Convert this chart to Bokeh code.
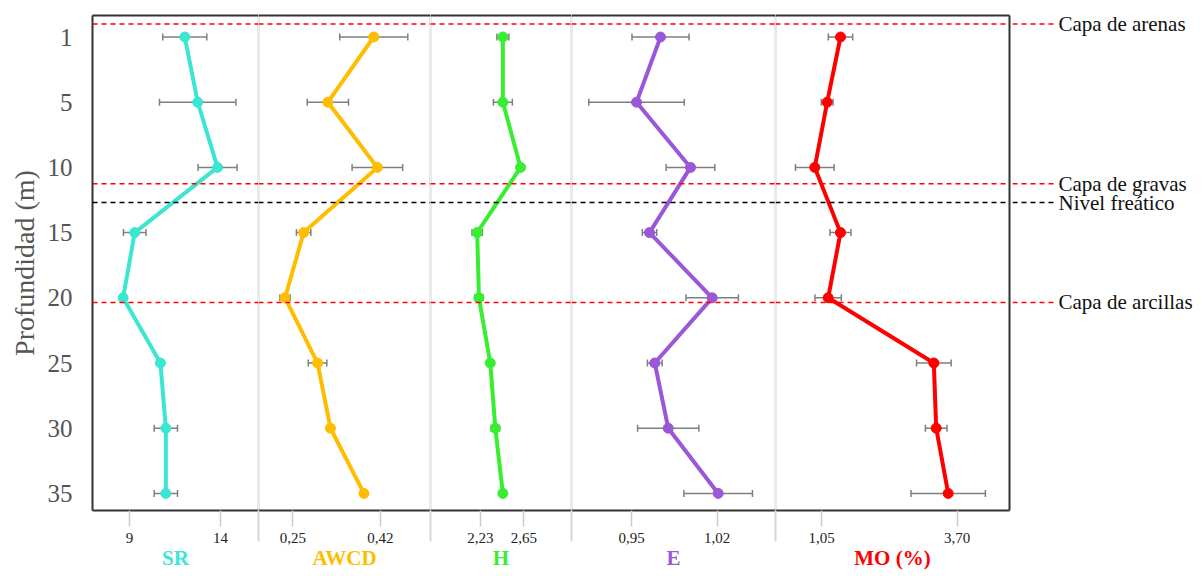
from bokeh.plotting import figure
from bokeh.layouts import row
from bokeh.models import Range1d, FixedTicker, LinearAxis, Span, Whisker, TeeHead, ColumnDataSource
from bokeh.embed import file_html
from bokeh.resources import INLINE
from bokeh.core.properties import value

# Sampling depths (m)
depths = ["1", "5", "10", "15", "20", "25", "30", "35"]

# Mean value and error for each index, by depth
sr = [12.04, 12.75, 13.84, 9.29, 8.65, 10.70, 11.00, 11.00]
sr_err = [1.21, 2.10, 1.07, 0.62, 0.0, 0.0, 0.64, 0.64]

awcd = [0.407, 0.318, 0.414, 0.271, 0.235, 0.298, 0.323, 0.388]
awcd_err = [0.066, 0.040, 0.049, 0.014, 0.010, 0.018, 0.006, 0.006]

h = [2.447, 2.447, 2.619, 2.198, 2.215, 2.325, 2.374, 2.447]
h_err = [0.058, 0.092, 0.030, 0.050, 0.040, 0.0, 0.040, 0.0]

e = [0.9737, 0.9541, 0.9982, 0.9647, 1.0159, 0.9690, 0.9800, 1.0208]
e_err = [0.0233, 0.0390, 0.0199, 0.0059, 0.0214, 0.0060, 0.0250, 0.0280]

mo = [1.421, 1.161, 0.919, 1.421, 1.180, 3.243, 3.289, 3.523]
mo_err = [0.238, 0.114, 0.377, 0.205, 0.257, 0.338, 0.211, 0.726]

# Tick values and their printed labels for each panel
sr_ticks, sr_tick_labels = [9, 14], ["9", "14"]
awcd_ticks, awcd_tick_labels = [0.25, 0.42], ["0,25", "0,42"]
h_ticks, h_tick_labels = [2.23, 2.65], ["2,23", "2,65"]
e_ticks, e_tick_labels = [0.95, 1.02], ["0,95", "1,02"]
mo_ticks, mo_tick_labels = [1.05, 3.70], ["1,05", "3,70"]

# Stratigraphic reference lines, placed on the depth-row axis
layer_names = ["Capa de arenas", "Capa de gravas", "Nivel freático", "Capa de arcillas"]
layer_rows = [-0.2, 2.25, 2.54, 4.07]
layer_colors = ["#ff0000", "#ff0000", "#000000", "#ff0000"]

SERIF = "Liberation Serif"
FRAME_H = 495
TOP, BOTTOM = 15, 66
DIVIDER = "#d6d6d6"
FRAME_LINE = "#333333"

panels = [
    dict(label="SR", vals=sr, errs=sr_err, color="#3be6d2", xr=(6.97, 16.09),
         ticks=sr_ticks, tick_labels=sr_tick_labels, fw=166),
    dict(label="AWCD", vals=awcd, errs=awcd_err, color="#ffbd00", xr=(0.1835, 0.517),
         ticks=awcd_ticks, tick_labels=awcd_tick_labels, fw=172),
    dict(label="H", vals=h, errs=h_err, color="#38ee30", xr=(1.745, 3.113),
         ticks=h_ticks, tick_labels=h_tick_labels, fw=141),
    dict(label="E", vals=e, errs=e_err, color="#9a58d8", xr=(0.901, 1.0676),
         ticks=e_ticks, tick_labels=e_tick_labels, fw=204),
    dict(label="MO (%)", vals=mo, errs=mo_err, color="#ff0000", xr=(0.152, 4.72),
         ticks=mo_ticks, tick_labels=mo_tick_labels, fw=234),
]

rows_idx = list(range(len(depths)))
y_range = Range1d(7.262, -0.33)

figs = []
n = len(panels)
for i, cfg in enumerate(panels):
    first, last = i == 0, i == n - 1
    lo, hi = cfg["xr"]
    p = figure(frame_width=cfg["fw"], frame_height=FRAME_H,
               x_range=Range1d(lo, hi), y_range=y_range,
               min_border_left=92 if first else 0, min_border_right=3 if last else 0,
               min_border_top=TOP, min_border_bottom=BOTTOM,
               y_axis_location="left" if first else None,
               output_backend="svg", toolbar_location=None)
    p.outline_line_color = None
    p.grid.visible = False
    p.background_fill_color = "white"
    p.border_fill_color = "white"

    # panel separators
    edges = []
    if not first:
        edges.append(lo)
    if not last:
        edges.append(hi)
    for ed in edges:
        p.add_layout(Span(location=ed, dimension="height", line_color=DIVIDER,
                          line_width=2, level="underlay"))

    # bottom axis
    ax = p.xaxis[0]
    ax.ticker = FixedTicker(ticks=cfg["ticks"], minor_ticks=edges)
    ax.major_label_overrides = {t: s for t, s in zip(cfg["ticks"], cfg["tick_labels"])}
    ax.axis_line_color = FRAME_LINE
    ax.axis_line_width = 2
    ax.major_tick_line_color = "#cccccc"
    ax.major_tick_line_width = 1.5
    ax.major_tick_out = 16
    ax.major_tick_in = 0
    ax.minor_tick_line_color = DIVIDER
    ax.minor_tick_line_width = 2
    ax.minor_tick_out = 31
    ax.minor_tick_in = 0
    ax.major_label_text_font = SERIF
    ax.major_label_text_font_size = "15px"
    ax.major_label_text_color = "#222222"
    ax.major_label_standoff = -9
    ax.axis_label = cfg["label"]
    ax.axis_label_text_font = SERIF
    ax.axis_label_text_font_size = "21px"
    ax.axis_label_text_font_style = "bold"
    ax.axis_label_text_color = cfg["color"]
    ax.axis_label_standoff = 0

    # top border
    top = LinearAxis(ticker=FixedTicker(ticks=[]), axis_line_color=FRAME_LINE,
                     axis_line_width=2, major_tick_out=0, major_tick_in=0,
                     minor_tick_out=0, minor_tick_in=0, major_label_text_font_size="0px")
    p.add_layout(top, "above")

    if first:
        yax = p.yaxis[0]
        yax.ticker = FixedTicker(ticks=rows_idx)
        yax.major_label_overrides = {r: d for r, d in zip(rows_idx, depths)}
        yax.axis_line_color = FRAME_LINE
        yax.axis_line_width = 2
        yax.major_tick_line_color = None
        yax.minor_tick_line_color = None
        yax.major_label_text_font = SERIF
        yax.major_label_text_font_size = "25px"
        yax.major_label_text_color = "#555555"
        yax.major_label_standoff = 14
        yax.axis_label = "Profundidad (m)"
        yax.axis_label_text_font = SERIF
        yax.axis_label_text_font_size = "28px"
        yax.axis_label_text_font_style = "normal"
        yax.axis_label_text_color = "#555555"
        yax.axis_label_standoff = 5

    if last:
        right = LinearAxis(ticker=FixedTicker(ticks=[]),
                           axis_line_color=FRAME_LINE, axis_line_width=2,
                           major_tick_out=0, major_tick_in=0, minor_tick_out=0,
                           minor_tick_in=0, major_label_text_font_size="0px")
        p.add_layout(right, "right")

    # error bars
    keep = [k for k, v in enumerate(cfg["errs"]) if v > 0]
    err_src = ColumnDataSource(dict(
        y=[rows_idx[k] for k in keep],
        lower=[cfg["vals"][k] - cfg["errs"][k] for k in keep],
        upper=[cfg["vals"][k] + cfg["errs"][k] for k in keep],
    ))
    p.add_layout(Whisker(source=err_src, base="y", lower="lower", upper="upper",
                         dimension="width", line_color="#7f7f7f", line_width=1.5,
                         level="underlay",
                         lower_head=TeeHead(size=7, line_color="#7f7f7f", line_width=1.5),
                         upper_head=TeeHead(size=7, line_color="#7f7f7f", line_width=1.5)))

    src = ColumnDataSource(dict(x=cfg["vals"], y=rows_idx))
    p.line("x", "y", source=src, line_color=cfg["color"], line_width=4)
    p.scatter("x", "y", source=src, size=10, fill_color=cfg["color"], line_color=cfg["color"])

    # reference depths
    for r, c in zip(layer_rows, layer_colors):
        p.add_layout(Span(location=r, dimension="width", line_color=c,
                          line_dash="5 4", line_width=1.5))
    figs.append(p)

# right-hand captions for the reference lines
lab = figure(frame_width=192, frame_height=FRAME_H, x_range=Range1d(0, 192), y_range=y_range,
             min_border_left=0, min_border_right=0, min_border_top=TOP, min_border_bottom=BOTTOM,
             x_axis_location=None, y_axis_location=None,
             output_backend="svg", toolbar_location=None)
lab.outline_line_color = None
lab.grid.visible = False
lab_src = ColumnDataSource(dict(x0=[0] * len(layer_rows), x1=[45] * len(layer_rows),
                                y=layer_rows, color=layer_colors, name=layer_names,
                                tx=[46] * len(layer_rows)))
lab.segment(x0="x0", x1="x1", y0="y", y1="y", source=lab_src, line_color="color",
            line_dash="5 4", line_width=1.5)
lab.text(x="tx", y="y", text="name", source=lab_src, text_baseline="middle",
         text_font=value(SERIF), text_font_size="21px", text_color="#111111")
figs.append(lab)

layout = row(*figs, spacing=0)
open("out.html", "w").write(file_html(layout, INLINE))
